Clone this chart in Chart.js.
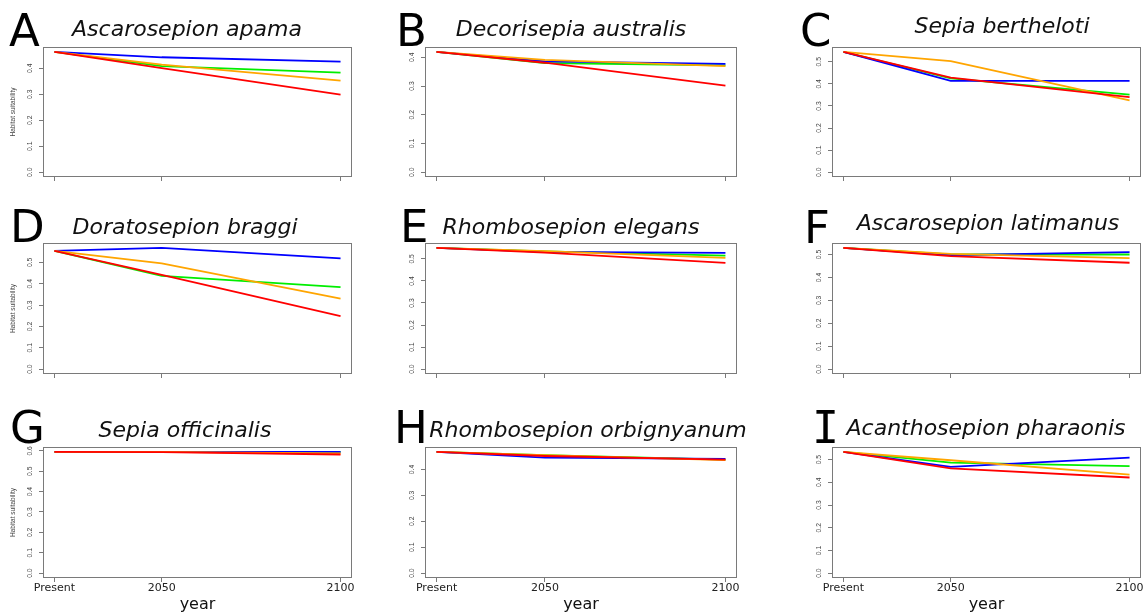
<!DOCTYPE html>
<html lang="en">
<head>
<meta charset="UTF-8">
<title>Habitat suitability</title>
<script src="https://cdn.jsdelivr.net/npm/chart.js"></script>
<style>
  body { margin: 0; background: #fff; }
  #wrap { position: relative; width: 1146px; height: 615px; overflow: hidden; background: #fff; }
  .panel { position: absolute; }
  .letter { position: absolute; font-family: 'DejaVu Sans'; font-size: 45px; line-height: 45px; color: #000; }
  .title { position: absolute; width: 400px; text-align: center; font-family: 'DejaVu Sans'; font-style: italic;
           font-size: 22px; line-height: 22px; color: #111; white-space: nowrap; }
</style>
</head>
<body>
<div id="wrap"></div>
<script>
// x positions of the three time steps ("Present" taken as 2020)
const years = [2020, 2050, 2100];
const yearLabels = ['Present', '2050', '2100'];

const letters = ['A', 'B', 'C', 'D', 'E', 'F', 'G', 'H', 'I'];
const species = ['Ascarosepion apama', 'Decorisepia australis', 'Sepia bertheloti',
                 'Doratosepion braggi', 'Rhombosepion elegans', 'Ascarosepion latimanus',
                 'Sepia officinalis', 'Rhombosepion orbignyanum', 'Acanthosepion pharaonis'];

// habitat suitability per panel: [Present, 2050, 2100]
const blue = [
  [0.463, 0.442, 0.425], [0.419, 0.386, 0.377], [0.545, 0.413, 0.413],
  [0.554, 0.568, 0.519], [0.550, 0.532, 0.527], [0.529, 0.497, 0.510],
  [0.595, 0.595, 0.595], [0.468, 0.446, 0.441], [0.534, 0.468, 0.509]
];
const green = [
  [0.463, 0.408, 0.383], [0.419, 0.380, 0.372], [0.545, 0.425, 0.351],
  [0.554, 0.437, 0.384], [0.550, 0.534, 0.515], [0.529, 0.500, 0.500],
  [0.595, 0.595, 0.595], [0.468, 0.455, 0.438], [0.534, 0.487, 0.471]
];
const orange = [
  [0.463, 0.414, 0.352], [0.419, 0.391, 0.369], [0.545, 0.503, 0.325],
  [0.554, 0.495, 0.330], [0.550, 0.535, 0.505], [0.529, 0.503, 0.484],
  [0.595, 0.595, 0.587], [0.468, 0.455, 0.436], [0.534, 0.497, 0.434]
];
const red = [
  [0.463, 0.400, 0.298], [0.419, 0.381, 0.301], [0.545, 0.428, 0.340],
  [0.554, 0.441, 0.248], [0.550, 0.528, 0.482], [0.529, 0.493, 0.464],
  [0.595, 0.594, 0.582], [0.468, 0.452, 0.438], [0.534, 0.461, 0.421]
];

// page layout (plot box edges for each column / row)
const boxL = [43, 425, 832], boxR = [352, 737, 1141];
const boxT = [47, 243, 447], boxB = [177, 374, 578];
const titleX = [187, 571, 1002, 185, 571, 988, 185, 588, 986];
const titleTop = [18, 18, 15, 216, 216, 212, 419, 419, 417];
const letterLeft = [9, 396, 800, 10, 400, 804, 10, 394, 812];
const letterTop = [8, 8, 8, 204, 204, 205, 405, 405, 405];

// R-style box round the plot region
const boxPlugin = {
  id: 'box',
  afterDraw(chart) {
    const { ctx, chartArea: a } = chart;
    ctx.save();
    ctx.strokeStyle = '#7a7a7a';
    ctx.lineWidth = 1;
    ctx.strokeRect(a.left + 0.5, a.top + 0.5, a.right - a.left - 1, a.bottom - a.top - 1);
    ctx.restore();
  }
};

const wrap = document.getElementById('wrap');

function makeDataset(label, color, vals, order) {
  return {
    label,
    data: vals.map((v, k) => ({ x: years[k], y: v })),
    borderColor: color,
    backgroundColor: color,
    borderWidth: 1.8,
    pointRadius: 0,
    tension: 0,
    fill: false,
    order
  };
}

for (let i = 0; i < 9; i++) {
  const r = Math.floor(i / 3), c = i % 3;
  const bottomRow = r === 2;
  const axisW = 40, xH = bottomRow ? 36 : 12;

  const div = document.createElement('div');
  div.className = 'panel';
  div.style.left = (boxL[c] - axisW) + 'px';
  div.style.top = (boxT[r] - 5) + 'px';
  const w = boxR[c] - boxL[c] + axisW + 5;
  const h = boxB[r] - boxT[r] + 5 + xH;
  div.style.width = w + 'px';
  div.style.height = h + 'px';
  const canvas = document.createElement('canvas');
  div.appendChild(canvas);
  wrap.appendChild(div);

  const letter = document.createElement('div');
  letter.className = 'letter';
  letter.textContent = letters[i];
  letter.style.left = letterLeft[i] + 'px';
  letter.style.top = letterTop[i] + 'px';
  if (letters[i] === 'I') letter.style.fontFamily = "'DejaVu Sans Mono'";
  wrap.appendChild(letter);

  const title = document.createElement('div');
  title.className = 'title';
  title.textContent = species[i];
  title.style.left = (titleX[i] - 200) + 'px';
  title.style.top = titleTop[i] + 'px';
  wrap.appendChild(title);

  // R-like axis: 0 .. max, widened by 4% on each side
  const all = [].concat(blue[i], green[i], orange[i], red[i]);
  const ymax = Math.max(...all);
  const yTop = 1.04 * ymax;
  const yTicks = [];
  for (let k = 0; k * 0.1 <= yTop + 1e-9; k++) yTicks.push(+(k * 0.1).toFixed(1));

  new Chart(canvas, {
    type: 'line',
    data: {
      datasets: [
        makeDataset('blue', '#0000ff', blue[i], 2),
        makeDataset('green', '#00ee00', green[i], 3),
        makeDataset('orange', '#ffa500', orange[i], 1),
        makeDataset('red', '#ff0000', red[i], 0)
      ]
    },
    options: {
      responsive: true,
      maintainAspectRatio: false,
      animation: false,
      layout: { padding: { top: 5, right: 5, left: 0, bottom: 0 } },
      plugins: { legend: { display: false }, tooltip: { enabled: false } },
      scales: {
        x: {
          type: 'linear',
          min: 2016.8,
          max: 2103.2,
          afterBuildTicks: s => { s.ticks = years.map(v => ({ value: v })); },
          afterFit: s => { s.height = xH; s.paddingLeft = 0; s.paddingRight = 0; },
          grid: { drawOnChartArea: false, drawTicks: true, tickLength: 4, color: '#7a7a7a' },
          border: { display: false },
          ticks: {
            autoSkip: false, maxRotation: 0, padding: 0,
            color: '#222', font: { family: 'DejaVu Sans', size: 11 },
            callback: v => bottomRow ? yearLabels[years.indexOf(v)] : ''
          },
          title: {
            display: bottomRow, text: 'year', color: '#111',
            font: { family: 'DejaVu Sans', size: 16 }, padding: 0
          }
        },
        y: {
          type: 'linear',
          min: -0.04 * ymax,
          max: yTop,
          afterBuildTicks: s => { s.ticks = yTicks.map(v => ({ value: v })); },
          afterFit: s => { s.width = axisW; s.paddingTop = 0; s.paddingBottom = 0; },
          grid: { drawOnChartArea: false, drawTicks: true, tickLength: 4, color: '#7a7a7a' },
          border: { display: false },
          ticks: {
            autoSkip: false, minRotation: 90, maxRotation: 90, crossAlign: 'center', padding: 4,
            color: '#444', font: { family: 'Liberation Sans', size: 6.8 },
            callback: v => v.toFixed(1)
          },
          title: {
            display: c === 0, text: 'Habitat suitability', color: '#444',
            font: { family: 'Liberation Sans', size: 6.5 }, padding: { top: 6, bottom: 0 }
          }
        }
      }
    },
    plugins: [boxPlugin]
  });
}
</script>
</body>
</html>
